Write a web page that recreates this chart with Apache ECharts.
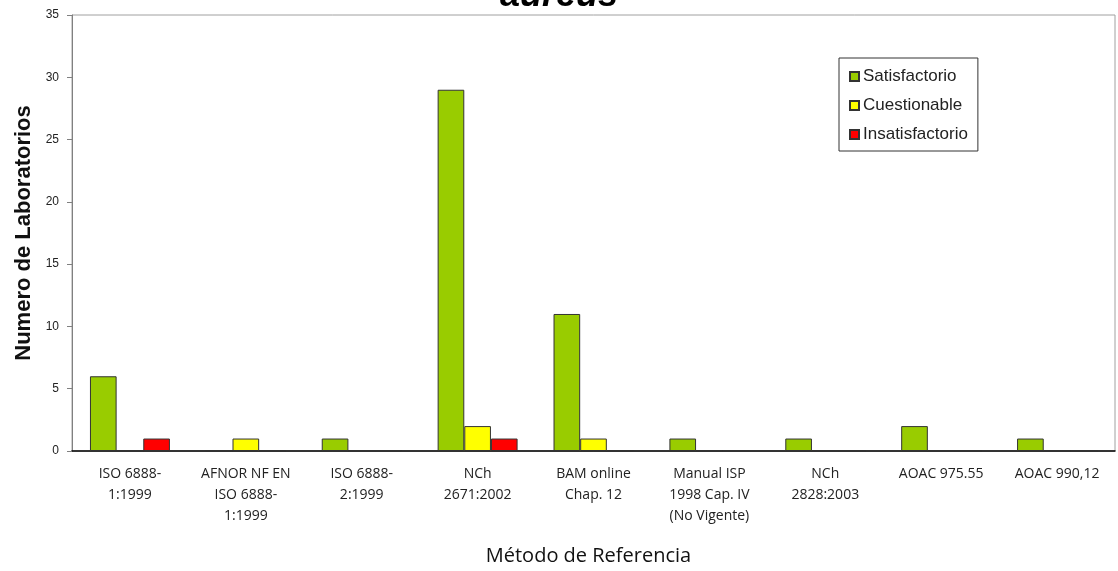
<!DOCTYPE html>
<html>
<head>
<meta charset="utf-8">
<script src="https://cdn.jsdelivr.net/npm/echarts@6/dist/echarts.min.js"></script>
<style>
  html, body { margin: 0; padding: 0; background: #fff; }
  #chart { width: 1118px; height: 571px; }
</style>
</head>
<body>
<div id="chart"></div>
<script>
// categorías (métodos de referencia)
var metodos = [
  'ISO 6888-\n1:1999',
  'AFNOR NF EN\nISO 6888-\n1:1999',
  'ISO 6888-\n2:1999',
  'NCh\n2671:2002',
  'BAM online\nChap. 12',
  'Manual ISP\n1998 Cap. IV\n(No Vigente)',
  'NCh\n2828:2003',
  'AOAC 975.55',
  'AOAC 990,12'
]
var satisfactorio   = [6, 0, 1, 29, 11, 1, 1, 2, 1]
var cuestionable    = [0, 1, 0, 2, 1, 0, 0, 0, 0]
var insatisfactorio = [1, 0, 0, 1, 0, 0, 0, 0, 0]

var chart = echarts.init(document.getElementById('chart'))

function serie(name, data, color) {
  return {
    type: 'bar',
    name: name,
    data: data,
    barGap: '0%',
    barCategoryGap: '31%',
    itemStyle: { color: color, borderColor: '#333', borderWidth: 1 },
    emphasis: { disabled: true },
    animation: false
  }
}

chart.setOption({
  backgroundColor: '#fff',
  // título (cortado en la imagen original)
  title: {
    text: 'aureus',
    left: 'center',
    top: -27,
    textStyle: { fontFamily: 'Liberation Sans, Arial', fontSize: 36, fontWeight: 'bold', fontStyle: 'italic', color: '#000' }
  },
  grid: {
    left: 72, right: 3, top: 15, bottom: 119,
    show: true, borderColor: '#a0a0a0', borderWidth: 1
  },
  legend: {
    orient: 'vertical',
    left: 839, top: 58,
    padding: [10, 10, 8, 10],
    itemGap: 12,
    itemWidth: 9, itemHeight: 9,
    borderColor: '#333', borderWidth: 1,
    icon: 'rect',
    data: ['Satisfactorio', 'Cuestionable', 'Insatisfactorio'],
    textStyle: { fontFamily: 'Liberation Sans, Arial', fontSize: 17, color: '#222', padding: [0, 0, 0, -1] }
  },
  xAxis: {
    type: 'category',
    data: metodos,
    name: 'Método de Referencia',
    nameLocation: 'middle',
    nameGap: 95,
    nameTextStyle: { fontFamily: 'Liberation Sans Narrow, Open Sans, sans-serif', fontSize: 20, color: '#111', padding: [0, 10, 0, 0] },
    axisLine: { lineStyle: { color: '#000', width: 1.5 } },
    axisTick: { show: false },
    axisLabel: {
      interval: 0,
      margin: 13,
      fontFamily: 'Liberation Sans Narrow, Open Sans, sans-serif',
      fontSize: 14,
      lineHeight: 21,
      color: '#222'
    }
  },
  yAxis: {
    type: 'value',
    min: 0, max: 35, interval: 5,
    name: 'Numero de Laboratorios',
    nameLocation: 'middle',
    nameGap: 37,
    nameTextStyle: { fontFamily: 'Liberation Sans, Arial', fontSize: 22, fontWeight: 'bold', color: '#111' },
    axisLine: { show: true, lineStyle: { color: '#808080' } },
    axisTick: { show: true, length: 5, lineStyle: { color: '#808080' } },
    splitLine: { show: false },
    axisLabel: { margin: 13, fontFamily: 'Liberation Sans, Arial', fontSize: 12, color: '#222' }
  },
  series: [
    serie('Satisfactorio', satisfactorio, '#99cc00'),
    serie('Cuestionable', cuestionable, '#ffff00'),
    serie('Insatisfactorio', insatisfactorio, '#ff0000')
  ]
})
</script>
</body>
</html>
